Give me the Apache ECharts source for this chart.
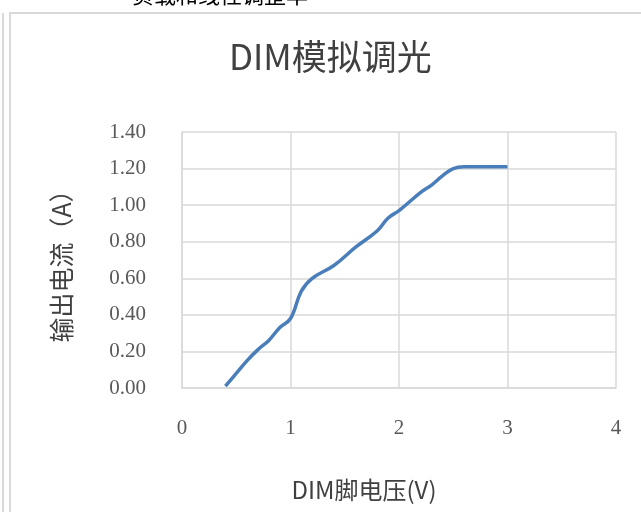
<!DOCTYPE html>
<html>
<head>
<meta charset="utf-8">
<script src="https://cdn.jsdelivr.net/npm/echarts@6/dist/echarts.min.js"></script>
<style>
  html, body { margin: 0; padding: 0; background: #fff; }
  #chart { width: 641px; height: 512px; }
</style>
</head>
<body>
<div id="chart"></div>
<script>
// DIM pin voltage (V) vs output current (A)
const dimVoltage = [0.4, 0.5, 0.6, 0.7, 0.8, 0.9, 1.0, 1.1, 1.2, 1.4, 1.6, 1.8, 1.9, 2.0, 2.2, 2.3, 2.4, 2.5, 2.6, 2.8, 3.0];
const outCurrent = [0.01, 0.08, 0.15, 0.21, 0.26, 0.33, 0.38, 0.53, 0.60, 0.67, 0.77, 0.86, 0.93, 0.97, 1.07, 1.11, 1.16, 1.20, 1.21, 1.21, 1.21];
const xTicks = [0, 1, 2, 3, 4];
const yTicks = [0, 0.2, 0.4, 0.6, 0.8, 1.0, 1.2, 1.4];

const chart = echarts.init(document.getElementById('chart'));
const grey = '#d9d9d9';
const serif = '"Liberation Serif", "DejaVu Serif", serif';
const sans = '"Noto Sans CJK SC", "Noto Sans", sans-serif';

chart.setOption({
  animation: false,
  backgroundColor: '#fff',
  title: {
    text: 'DIM模拟调光',
    left: 224,
    top: 34,
    textStyle: { fontFamily: sans, fontSize: 35, fontWeight: 'normal', color: '#404040' }
  },
  grid: { left: 182, right: 25, top: 132, bottom: 124 },
  xAxis: {
    type: 'value',
    min: xTicks[0],
    max: xTicks[xTicks.length - 1],
    interval: 1,
    name: 'DIM脚电压(V)',
    nameLocation: 'middle',
    nameGap: 90,
    nameTextStyle: { fontFamily: sans, fontSize: 24, color: '#404040', padding: [0, 70, 0, 0] },
    axisLine: { lineStyle: { color: grey, width: 1.5 } },
    axisTick: { show: false },
    axisLabel: { fontFamily: serif, fontSize: 21, color: '#595959', margin: 30 },
    splitLine: { lineStyle: { color: grey, width: 1.5 } }
  },
  yAxis: {
    type: 'value',
    min: yTicks[0],
    max: yTicks[yTicks.length - 1],
    interval: 0.2,
    name: '输出电流（A）',
    nameLocation: 'middle',
    nameGap: 108,
    nameTextStyle: { fontFamily: sans, fontSize: 25, color: '#404040' },
    axisLine: { show: true, lineStyle: { color: grey, width: 1.5 } },
    axisTick: { show: false },
    axisLabel: {
      fontFamily: serif, fontSize: 21, color: '#595959', margin: 36,
      formatter: v => v.toFixed(2)
    },
    splitLine: { lineStyle: { color: grey, width: 1.5 } }
  },
  series: [{
    type: 'line',
    data: dimVoltage.map((v, i) => [v, outCurrent[i]]),
    smooth: 0.4,
    showSymbol: false,
    lineStyle: { color: '#4a7ebb', width: 3.5 },
    itemStyle: { color: '#4a7ebb' }
  }],
  graphic: [
    { type: 'line', shape: { x1: 3, y1: 13, x2: 3, y2: 512 }, style: { stroke: grey, lineWidth: 2 } },
    { type: 'line', shape: { x1: 10, y1: 13, x2: 10, y2: 512 }, style: { stroke: grey, lineWidth: 2 } },
    { type: 'line', shape: { x1: 9, y1: 13, x2: 641, y2: 13 }, style: { stroke: grey, lineWidth: 2 } },
    { type: 'text', left: 132, top: -16, style: { text: '负载和线性调整率', font: '22px ' + sans, fill: '#000' } }
  ]
});
</script>
</body>
</html>
